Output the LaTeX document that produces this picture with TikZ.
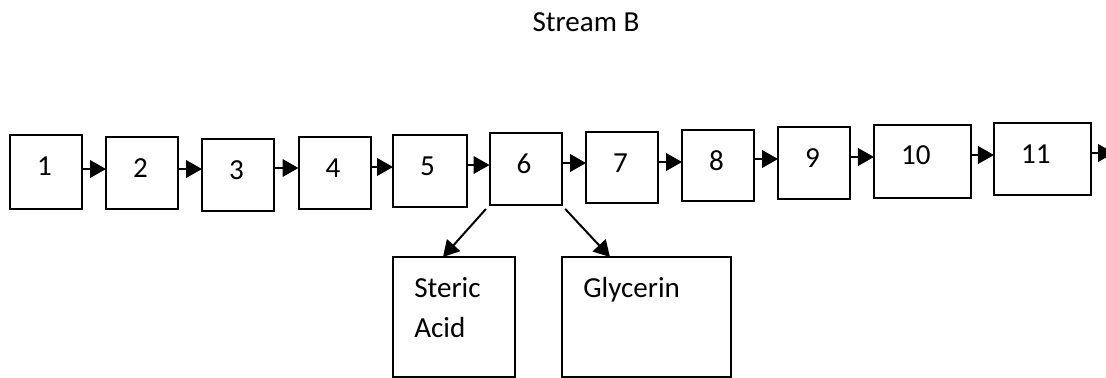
\documentclass[tikz,border=0pt]{standalone}
\usepackage{fontspec}
\setmainfont{Carlito}
\usepackage{tikz}
\usetikzlibrary{arrows.meta}

\begin{document}
\begin{tikzpicture}[
  x=0.375pt, y=-0.375pt,
  font=\fontsize{10.9}{15}\selectfont,
  blk/.style={draw, line width=0.75pt, minimum width=27pt, minimum height=27pt, inner sep=0pt, outer sep=0pt},
  wideblk/.style={blk, minimum width=36.4pt},
  outblk/.style={blk, minimum height=45pt},
  numlbl/.style={anchor=base west, xshift=10pt, yshift=-15pt, inner sep=0pt},
  txtlbl/.style={anchor=base west, xshift=7.8pt, yshift=-15pt, inner sep=0pt, text width=3cm, align=left},
  arr/.style={-{Triangle[length=6pt, width=6.6pt]}, line width=0.75pt}
]
\useasboundingbox (0,0) rectangle (1106,378);

\node[anchor=base west, inner sep=0pt] (title) at (532,32) {Stream B};

% process chain
\node[blk, minimum height=27.75pt, label={[numlbl]north west:1}] (b1) at (46,172) {};
\node[blk, label={[numlbl]north west:2}] (b2) at (142,173) {};
\node[blk, label={[numlbl]north west:3}] (b3) at (238,175) {};
\node[blk, label={[numlbl]north west:4}] (b4) at (334.5,173) {};
\node[blk, minimum width=27.75pt, label={[numlbl]north west:5}] (b5) at (430,171) {};
\node[blk, label={[numlbl]north west:6}] (b6) at (525.5,169) {};
\node[blk, minimum height=26.6pt, label={[numlbl]north west:7}] (b7) at (622,167.5) {};
\node[blk, minimum height=26.6pt, label={[numlbl]north west:8}] (b8) at (718,165.5) {};
\node[blk, label={[numlbl]north west:9}] (b9) at (814,163) {};
\node[wideblk, minimum height=27.4pt, label={[numlbl]north west:10}] (b10) at (922.5,161.5) {};
\node[wideblk, label={[numlbl]north west:11}] (b11) at (1042.5,159) {};
\coordinate (out) at (1114,153);

% products
\node[outblk, minimum width=45.75pt, label={[txtlbl]north west:Steric\\Acid}] (steric) at (454,317) {};
\node[outblk, minimum width=63.4pt, label={[txtlbl]north west:Glycerin}] (glyc) at (646.5,317) {};

\draw[arr] (b1.east |- 0,169) -- (b2.west |- 0,169);
\draw[arr] (b2.east |- 0,169) -- (b3.west |- 0,169);
\draw[arr] (b3.east |- 0,168) -- (b4.west |- 0,168);
\draw[arr] (b4.east |- 0,167) -- (b5.west |- 0,167);
\draw[arr] (b5.east |- 0,165) -- (b6.west |- 0,165);
\draw[arr] (b6.east |- 0,163) -- (b7.west |- 0,163);
\draw[arr] (b7.east |- 0,162) -- (b8.west |- 0,162);
\draw[arr] (b8.east |- 0,159) -- (b9.west |- 0,159);
\draw[arr] (b9.east |- 0,157) -- (b10.west |- 0,157);
\draw[arr] (b10.east |- 0,155) -- (b11.west |- 0,155);
\draw[arr] (b11.east |- out) -- (out);

\draw[arr, shorten <=2pt] (b6.south west) -- (steric.north -| 443,0);
\draw[arr, shorten <=2pt] (b6.south east) -- (glyc.north -| 610,0);
\end{tikzpicture}
\end{document}
